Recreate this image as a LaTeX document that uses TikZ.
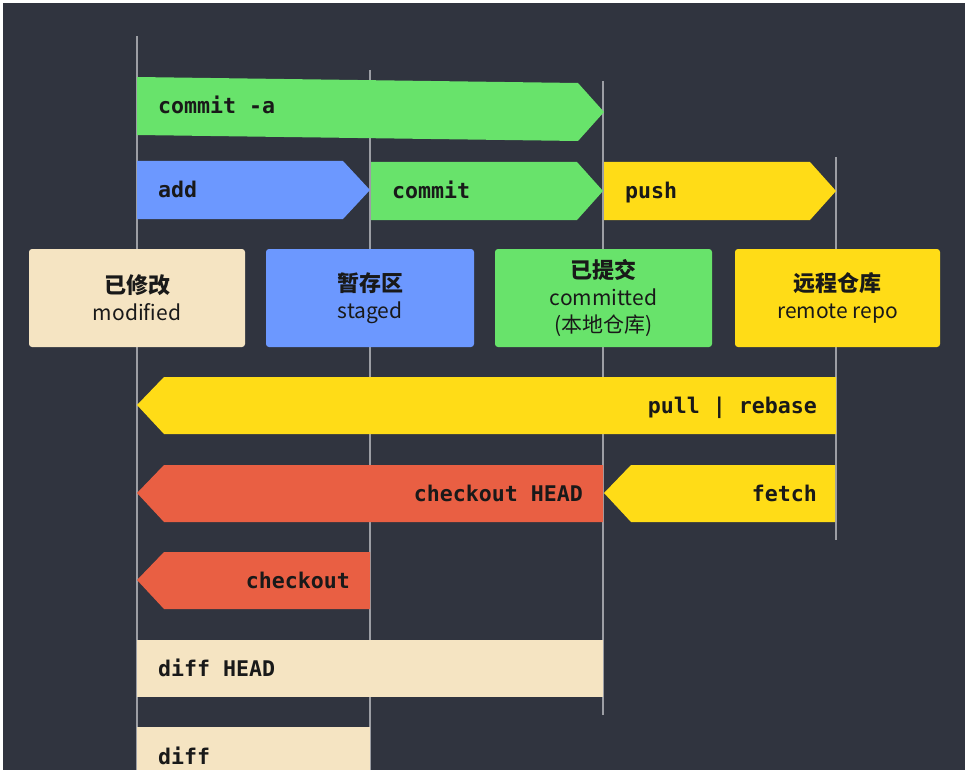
\documentclass[tikz,border=0pt]{standalone}
\usepackage{fontspec}
\setmonofont{DejaVu Sans Mono}
\newfontfamily\cjk{Noto Sans CJK SC}
\definecolor{bg}{HTML}{30343F}
\definecolor{gitgreen}{HTML}{68E36B}
\definecolor{gitblue}{HTML}{6C98FF}
\definecolor{gityellow}{HTML}{FFDC17}
\definecolor{gitred}{HTML}{E95F43}
\definecolor{gitbeige}{HTML}{F5E4C2}
\definecolor{lanegray}{HTML}{9C9EA4}
\tikzset{
  lane/.style={draw=lanegray,line width=1.5pt},
  cmd/.style={font=\ttfamily\bfseries\fontsize{21.6}{24}\selectfont,text=black!90,inner sep=0pt},
  area/.style={rounded corners=3pt,minimum height=98pt,inner sep=0pt},
  areatext/.style={font=\cjk\fontsize{21}{27}\selectfont,align=center,text=black!90}
}
\newcommand{\areatitle}[1]{{\bfseries\fontsize{22}{27}\selectfont #1}}

\begin{document}
\begin{tikzpicture}[x=1pt,y=-1pt]
\useasboundingbox (0,0) rectangle (965,770);
\fill[white] (0,0) rectangle (965,770);
\fill[bg] (3,3) rectangle (965,770);

\draw[lane] (137,36) -- (137,770);
\draw[lane] (370,70) -- (370,770);
\draw[lane] (603,81) -- (603,715);
\draw[lane] (836,157) -- (836,540);

\fill[gitgreen] (137,77) -- (578,83) -- (604,112) -- (578,141) -- (137,135) -- cycle;
\node[cmd,anchor=base west] (commita) at (158,114) {commit -a};

\fill[gitblue] (137,161) -- (343,161) -- (370,190) -- (343,219) -- (137,219) -- cycle;
\node[cmd,anchor=base west] (add) at (158,197) {add};
\fill[gitgreen] (371,162) -- (577,162) -- (603,191) -- (577,220) -- (371,220) -- cycle;
\node[cmd,anchor=base west] (commit) at (392,198) {commit};
\fill[gityellow] (604,162) -- (810,162) -- (836,191) -- (810,220) -- (604,220) -- cycle;
\node[cmd,anchor=base west] (push) at (625,198) {push};

\node[area,fill=gitbeige,minimum width=216pt] (modified) at (137,298) {};
\node[areatext] at (modified) {\areatitle{已修改}\\modified};
\node[area,fill=gitblue,minimum width=208pt] (staged) at (370,298) {};
\node[areatext] at (staged) {\areatitle{暂存区}\\staged};
\node[area,fill=gitgreen,minimum width=217pt] (committed) at (603.5,298) {};
\node[areatext] at (committed) {\areatitle{已提交}\\committed\\(本地仓库)};
\node[area,fill=gityellow,minimum width=205pt] (remote) at (837.5,298) {};
\node[areatext] at (remote) {\areatitle{远程仓库}\\remote repo};

\fill[gityellow] (137,405) -- (164,377) -- (836,377) -- (836,434) -- (164,434) -- cycle;
\node[cmd,anchor=base east] (pull) at (817,413) {pull | rebase};

\fill[gitred] (137,493) -- (164,465) -- (603,465) -- (603,522) -- (164,522) -- cycle;
\node[cmd,anchor=base east] (checkouthead) at (583,501) {checkout HEAD};
\fill[gityellow] (604,493) -- (631,465) -- (835,465) -- (835,522) -- (631,522) -- cycle;
\node[cmd,anchor=base east] (fetch) at (817,501) {fetch};

\fill[gitred] (137,580) -- (164,552) -- (370,552) -- (370,609) -- (164,609) -- cycle;
\node[cmd,anchor=base east] (checkout) at (350,588) {checkout};

\fill[gitbeige] (137,640) rectangle (603,697);
\node[cmd,anchor=base west] (diffhead) at (158,676) {diff HEAD};
\fill[gitbeige] (137,727) rectangle (370,770);
\node[cmd,anchor=base west] (diff) at (158,764) {diff};
\end{tikzpicture}
\end{document}
